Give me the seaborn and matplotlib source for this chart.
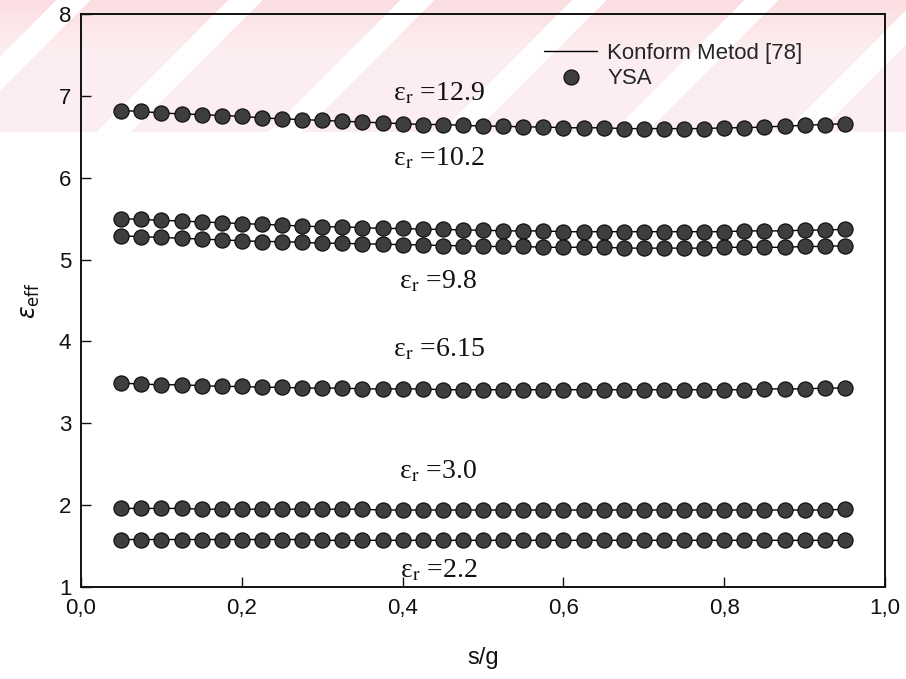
import numpy as np
import pandas as pd
import matplotlib
matplotlib.use("Agg")
import matplotlib.pyplot as plt
from matplotlib.lines import Line2D
import seaborn as sns

# s/g ratio sample points
sg = [0.050, 0.075, 0.100, 0.125, 0.150, 0.175, 0.200, 0.225, 0.250, 0.275,
      0.300, 0.325, 0.350, 0.375, 0.400, 0.425, 0.450, 0.475, 0.500, 0.525,
      0.550, 0.575, 0.600, 0.625, 0.650, 0.675, 0.700, 0.725, 0.750, 0.775,
      0.800, 0.825, 0.850, 0.875, 0.900, 0.925, 0.950]

# effective permittivity for each substrate permittivity
eps_12_9 = [6.82, 6.81, 6.79, 6.78, 6.77, 6.76, 6.75, 6.73, 6.72, 6.71,
            6.70, 6.69, 6.68, 6.67, 6.66, 6.65, 6.65, 6.64, 6.63, 6.63,
            6.62, 6.62, 6.61, 6.61, 6.61, 6.60, 6.60, 6.60, 6.60, 6.60,
            6.61, 6.61, 6.62, 6.63, 6.64, 6.65, 6.66]
eps_10_2 = [5.50, 5.49, 5.48, 5.47, 5.46, 5.45, 5.44, 5.43, 5.42, 5.41,
            5.40, 5.40, 5.39, 5.38, 5.38, 5.37, 5.37, 5.36, 5.36, 5.35,
            5.35, 5.35, 5.34, 5.34, 5.34, 5.34, 5.34, 5.34, 5.34, 5.34,
            5.34, 5.35, 5.35, 5.35, 5.36, 5.36, 5.37]
eps_9_8 = [5.29, 5.28, 5.27, 5.26, 5.25, 5.24, 5.23, 5.22, 5.22, 5.21,
           5.20, 5.20, 5.19, 5.19, 5.18, 5.18, 5.17, 5.17, 5.16, 5.16,
           5.16, 5.15, 5.15, 5.15, 5.15, 5.14, 5.14, 5.14, 5.14, 5.14,
           5.15, 5.15, 5.15, 5.15, 5.16, 5.16, 5.17]
eps_6_15 = [3.49, 3.48, 3.47, 3.47, 3.46, 3.45, 3.45, 3.44, 3.44, 3.43,
            3.43, 3.43, 3.42, 3.42, 3.42, 3.42, 3.41, 3.41, 3.41, 3.41,
            3.41, 3.41, 3.41, 3.41, 3.41, 3.41, 3.41, 3.41, 3.41, 3.41,
            3.41, 3.41, 3.42, 3.42, 3.42, 3.43, 3.43]
eps_3_0 = [1.96, 1.96, 1.96, 1.96, 1.95, 1.95, 1.95, 1.95, 1.95, 1.95,
           1.95, 1.95, 1.95, 1.94, 1.94, 1.94, 1.94, 1.94, 1.94, 1.94,
           1.94, 1.94, 1.94, 1.94, 1.94, 1.94, 1.94, 1.94, 1.94, 1.94,
           1.94, 1.94, 1.94, 1.94, 1.94, 1.94, 1.95]
eps_2_2 = [1.58, 1.58, 1.58, 1.58, 1.58, 1.58, 1.58, 1.58, 1.58, 1.58,
           1.57, 1.57, 1.57, 1.57, 1.57, 1.57, 1.57, 1.57, 1.57, 1.57,
           1.57, 1.57, 1.57, 1.57, 1.57, 1.57, 1.57, 1.57, 1.57, 1.57,
           1.57, 1.57, 1.57, 1.57, 1.57, 1.57, 1.57]

er_labels = ["12.9", "10.2", "9.8", "6.15", "3.0", "2.2"]
series = [eps_12_9, eps_10_2, eps_9_8, eps_6_15, eps_3_0, eps_2_2]
# annotation anchor (s/g, eps_eff) for each curve label
label_x = [0.388, 0.388, 0.395, 0.388, 0.395, 0.397]
label_y = [7.03, 6.23, 4.73, 3.90, 2.41, 1.20]

x_ticks = [0.0, 0.2, 0.4, 0.6, 0.8, 1.0]
x_ticklabels = ["0,0", "0,2", "0,4", "0,6", "0,8", "1,0"]
y_ticks = [1, 2, 3, 4, 5, 6, 7, 8]

legend_line = "Konform Metod [78]"
legend_marker = "YSA"

df = pd.DataFrame({
    "sg": np.tile(sg, len(series)),
    "eps": np.concatenate(series),
    "er": np.repeat(er_labels, len(sg)),
})

sns.set_theme(style="ticks")
plt.rcParams["font.family"] = ["Liberation Sans", "DejaVu Sans"]

W, H = 906, 679
fig = plt.figure(figsize=(W / 100, H / 100), dpi=100, facecolor="white")

# faint red diagonal banner across the top
bg = fig.add_axes([0, 0, 1, 1], zorder=-5)
bg.set_axis_off()
yy, xx = np.mgrid[0:H, 0:W]
band = yy < 132
gap = ((xx + yy - 228) % 172) < 34
alpha = np.where(band & ~gap, 0.08 + 0.08 * np.clip(1 - yy / 50.0, 0, 1), 0.0)
img = np.zeros((H, W, 4))
img[..., 0] = 0.90
img[..., 1] = 0.18
img[..., 2] = 0.26
img[..., 3] = alpha
bg.imshow(img, aspect="auto", extent=[0, 1, 0, 1], origin="upper")
bg.set_xlim(0, 1)
bg.set_ylim(0, 1)

ax = fig.add_axes([81 / W, 1 - 587 / H, (885 - 81) / W, (587 - 14) / H])
ax.set_facecolor("none")

marker_face = "#3e3e3e"
marker_edge = "#111111"

sns.lineplot(data=df, x="sg", y="eps", units="er", estimator=None,
             color="black", linewidth=1.0, ax=ax, legend=False, zorder=2)
sns.scatterplot(data=df, x="sg", y="eps", color=marker_face, s=118,
                edgecolor=marker_edge, linewidth=0.9, ax=ax, legend=False,
                zorder=3)

for lab, lx, ly in zip(er_labels, label_x, label_y):
    ax.text(lx, ly, r"ε$_\mathrm{r}$ =" + lab, fontsize=20,
            family=["Liberation Serif", "DejaVu Serif"], math_fontfamily="stix",
            ha="left", va="center", color="#111111")

ax.set_xlim(0, 1)
ax.set_ylim(1, 8)
ax.set_xticks(x_ticks)
ax.set_xticklabels(x_ticklabels)
ax.set_yticks(y_ticks)
ax.tick_params(axis="both", direction="in", length=7, width=1.0,
               labelsize=16, colors="#111111", top=False, right=False)
ax.tick_params(axis="x", pad=8)
ax.tick_params(axis="y", pad=7)
for sp in ax.spines.values():
    sp.set_visible(True)
    sp.set_color("#111111")
    sp.set_linewidth(1.4)

ax.set_xlabel("s/g", fontsize=17, labelpad=20, color="#111111")
ax.set_ylabel(r"$\varepsilon_{\mathrm{eff}}$", fontsize=17, labelpad=12,
              color="#111111", math_fontfamily="dejavusans")

handles = [
    Line2D([], [], color="black", linewidth=1.0),
    Line2D([], [], linestyle="none", marker="o", markersize=10.8,
           markerfacecolor=marker_face, markeredgecolor=marker_edge,
           markeredgewidth=0.9),
]
ax.legend(handles, [legend_line, legend_marker], loc="upper left",
          bbox_to_anchor=(0.565, 0.965), frameon=False, fontsize=16,
          handlelength=2.4, handletextpad=0.45, labelspacing=0.2,
          borderaxespad=0)

fig.savefig("out.png", dpi=100, facecolor="white")
